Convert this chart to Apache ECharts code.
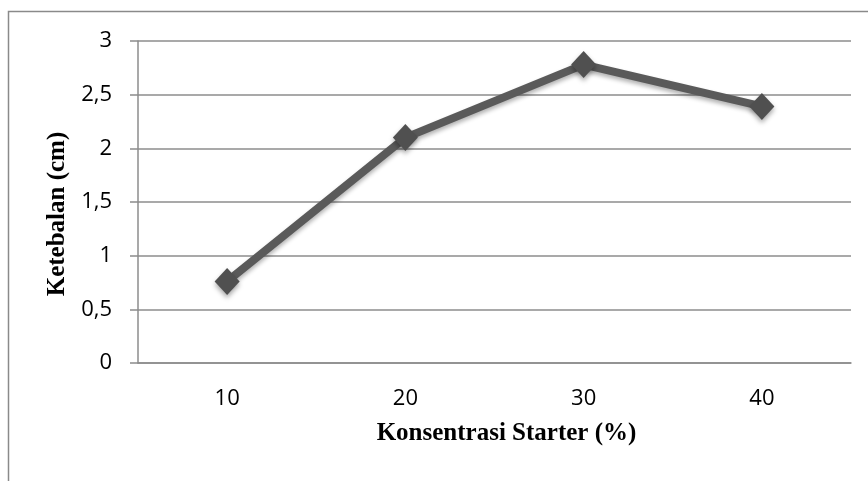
<!DOCTYPE html>
<html>
<head>
<meta charset="utf-8">
<script src="https://cdn.jsdelivr.net/npm/echarts@6/dist/echarts.min.js"></script>
<style>
html,body{margin:0;padding:0;background:#fff;}
#c{width:868px;height:481px;}
</style>
</head>
<body>
<div id="c"></div>
<script>
var categories = ['10', '20', '30', '40'];
var thickness = [0.76, 2.1, 2.78, 2.39];
var xTitle = 'Konsentrasi Starter (%)';
var yTitle = 'Ketebalan (cm)';

var chart = echarts.init(document.getElementById('c'), null, {renderer: 'canvas'});
var sans = '"Open Sans", "Noto Sans", sans-serif';
var serif = '"Liberation Serif", "DejaVu Serif", serif';
chart.setOption({
  animation: false,
  backgroundColor: '#fff',
  graphic: [{
    type: 'rect',
    shape: {x: 8.5, y: 11.5, width: 900, height: 520},
    style: {fill: 'none', stroke: '#8a8a8a', lineWidth: 1.5},
    silent: true
  }],
  grid: {left: 138, right: 17, top: 41, bottom: 118},
  xAxis: {
    type: 'category',
    data: categories,
    boundaryGap: true,
    axisLine: {show: true, lineStyle: {color: '#8c8c8c', width: 1.5}},
    axisTick: {show: false},
    axisLabel: {color: '#000', fontFamily: sans, fontSize: 22, margin: 25},
    name: xTitle,
    nameLocation: 'middle',
    nameGap: 58,
    nameTextStyle: {fontFamily: serif, fontWeight: 'bold', fontSize: 25, color: '#000', padding: [0, 0, 0, 24]}
  },
  yAxis: {
    type: 'value',
    min: 0,
    max: 3,
    interval: 0.5,
    axisLine: {show: true, lineStyle: {color: '#8c8c8c', width: 1.5}},
    axisTick: {show: true, length: 8, lineStyle: {color: '#8c8c8c', width: 1.5}},
    splitLine: {show: true, lineStyle: {color: '#8c8c8c', width: 1.5}},
    axisLabel: {
      color: '#000', fontFamily: sans, fontSize: 22, margin: 26,
      formatter: function (v) { return String(v).replace('.', ','); }
    },
    name: yTitle,
    nameLocation: 'middle',
    nameGap: 67,
    nameRotate: 90,
    nameTextStyle: {fontFamily: serif, fontWeight: 'bold', fontSize: 25, color: '#000', padding: [0, 24, 0, 0]}
  },
  series: [{
    type: 'line',
    data: thickness,
    symbol: 'diamond',
    symbolSize: [25, 27],
    lineStyle: {color: '#5a5a5a', width: 8, shadowBlur: 4, shadowColor: 'rgba(0,0,0,0.3)', shadowOffsetY: 3},
    itemStyle: {color: '#505050', shadowBlur: 5, shadowColor: 'rgba(0,0,0,0.35)', shadowOffsetY: 3},
    z: 3
  }]
});
</script>
</body>
</html>
